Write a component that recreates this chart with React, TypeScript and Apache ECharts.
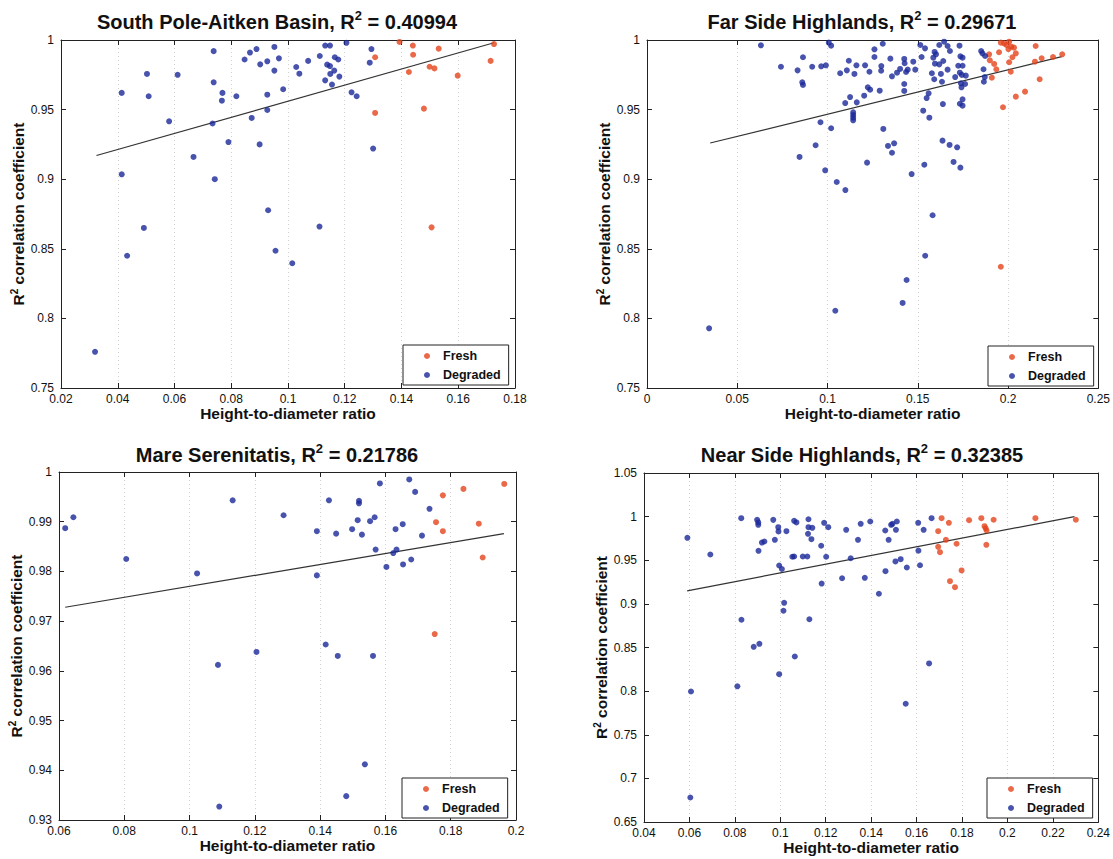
import React, { useEffect, useRef } from "react";
import * as echarts from "echarts";

type Pt = [number, number];

const FONT = "'Liberation Sans', Arial, Helvetica, sans-serif";
const BLUE = "#1a2898";
const RED = "#e4441c";

// ---------------- South Pole-Aitken Basin ----------------
const spaDegraded: Pt[] = [
  [0.032, 0.776], [0.0414, 0.962], [0.0414, 0.9035], [0.0433, 0.845], [0.0492, 0.865], [0.0503, 0.9756],
  [0.0509, 0.9596], [0.0581, 0.9416], [0.0611, 0.975], [0.0667, 0.916], [0.0738, 0.992], [0.0738, 0.9696],
  [0.0734, 0.94], [0.0742, 0.9], [0.0769, 0.962], [0.0767, 0.9564], [0.0818, 0.9596], [0.079, 0.9267],
  [0.0872, 0.944], [0.0847, 0.986], [0.0866, 0.991], [0.0889, 0.9935], [0.09, 0.925], [0.0902, 0.9825],
  [0.0927, 0.9847], [0.0927, 0.9607], [0.0927, 0.9497], [0.0952, 0.995], [0.0952, 0.978], [0.0968, 0.9868],
  [0.093, 0.8777], [0.0956, 0.8486], [0.0983, 0.9646], [0.1015, 0.8396], [0.1029, 0.9806], [0.104, 0.9758],
  [0.1071, 0.985], [0.1112, 0.9885], [0.1111, 0.866], [0.1131, 0.996], [0.1148, 0.996], [0.1138, 0.9823],
  [0.1148, 0.9813], [0.1131, 0.971], [0.1149, 0.9756], [0.1163, 0.978], [0.1155, 0.968], [0.1165, 0.9876],
  [0.1177, 0.986], [0.1181, 0.9737], [0.1206, 0.998], [0.1224, 0.9624], [0.1242, 0.9596], [0.1288, 0.9837],
  [0.1294, 0.9935], [0.13, 0.922],
];
const spaFresh: Pt[] = [
  [0.1307, 0.9876], [0.1307, 0.9476], [0.1393, 0.9986], [0.144, 0.996], [0.1441, 0.9894], [0.1426, 0.977],
  [0.1479, 0.9507], [0.1499, 0.9808], [0.1516, 0.9796], [0.1531, 0.9938], [0.1506, 0.8654], [0.1598, 0.9744],
  [0.1714, 0.985], [0.1726, 0.9971],
];
const spaFit: Pt[] = [[0.0325, 0.917], [0.1726, 0.998]];

// ---------------- Far Side Highlands ----------------
const fshDegraded: Pt[] = [
  [0.0344, 0.7929], [0.1043, 0.8055], [0.0631, 0.9962], [0.0742, 0.9808], [0.0834, 0.9782], [0.0864, 0.9876],
  [0.0915, 0.9808], [0.0965, 0.9811], [0.0991, 0.9818], [0.086, 0.9696], [0.0864, 0.9677], [0.1007, 0.9981],
  [0.102, 0.9959], [0.107, 0.9761], [0.1107, 0.9782], [0.1118, 0.9851], [0.1149, 0.9756], [0.116, 0.9818],
  [0.1208, 0.9818], [0.1232, 0.9772], [0.126, 0.9933], [0.126, 0.9878], [0.1306, 0.9973], [0.1298, 0.9813],
  [0.1297, 0.9779], [0.1348, 0.9866], [0.1385, 0.9765], [0.1357, 0.9739], [0.1402, 0.9792], [0.1425, 0.9864],
  [0.1427, 0.9833], [0.1435, 0.977], [0.1444, 0.9787], [0.1475, 0.9844], [0.1486, 0.9787], [0.1223, 0.966],
  [0.1236, 0.9643], [0.1289, 0.9636], [0.1203, 0.96], [0.1125, 0.959], [0.1098, 0.9547], [0.1162, 0.9552],
  [0.1425, 0.9684], [0.1425, 0.9634], [0.1142, 0.948], [0.1142, 0.9461], [0.1142, 0.9442], [0.1142, 0.9423],
  [0.0961, 0.9409], [0.102, 0.9366], [0.1309, 0.9361], [0.0934, 0.9244], [0.1335, 0.9239], [0.1369, 0.9258],
  [0.1357, 0.919], [0.0845, 0.916], [0.1219, 0.9119], [0.0987, 0.9064], [0.1051, 0.898], [0.1099, 0.8922],
  [0.1466, 0.9037], [0.1514, 0.9964], [0.154, 0.994], [0.1619, 0.9964], [0.1646, 0.9988], [0.1665, 0.9957],
  [0.1678, 0.9921], [0.1731, 0.9959], [0.1593, 0.9914], [0.1601, 0.9897], [0.1521, 0.9878], [0.1586, 0.9873],
  [0.1595, 0.983], [0.1641, 0.9849], [0.1619, 0.9825], [0.1665, 0.9787], [0.1736, 0.9883], [0.1748, 0.9873],
  [0.1724, 0.9815], [0.1748, 0.9815], [0.1707, 0.9734], [0.1733, 0.9765], [0.1744, 0.9749], [0.1766, 0.9744],
  [0.1578, 0.9761], [0.1591, 0.9718], [0.1628, 0.9756], [0.1634, 0.97], [0.156, 0.9617], [0.1549, 0.9583],
  [0.1739, 0.9689], [0.1742, 0.966], [0.1762, 0.9684], [0.1639, 0.954], [0.1733, 0.9542], [0.1748, 0.9528],
  [0.1748, 0.9574], [0.153, 0.9492], [0.1564, 0.9442], [0.1637, 0.9277], [0.1676, 0.9246], [0.1718, 0.9229],
  [0.1698, 0.9124], [0.1736, 0.9083], [0.1536, 0.9104], [0.1851, 0.9921], [0.1858, 0.9904], [0.1873, 0.9885],
  [0.1864, 0.979], [0.1871, 0.9734], [0.1866, 0.97], [0.1582, 0.8741], [0.1541, 0.845], [0.1438, 0.8276],
  [0.1416, 0.8111],
];
const fshFresh: Pt[] = [
  [0.195, 0.9912], [0.196, 0.9981], [0.1978, 0.9976], [0.1991, 0.9964], [0.2006, 0.9988], [0.2018, 0.9952],
  [0.2033, 0.9945], [0.2002, 0.9935], [0.2043, 0.9904], [0.2024, 0.9876], [0.1895, 0.9897], [0.1899, 0.9854],
  [0.1923, 0.9828], [0.2006, 0.984], [0.1935, 0.979], [0.2015, 0.9772], [0.191, 0.9729], [0.2153, 0.9957],
  [0.2149, 0.9844], [0.2186, 0.9869], [0.2249, 0.9878], [0.23, 0.9897], [0.2175, 0.9718], [0.2043, 0.9593],
  [0.2094, 0.9629], [0.1972, 0.9517], [0.196, 0.8371],
];
const fshFit: Pt[] = [[0.035, 0.926], [0.2297, 0.988]];

// ---------------- Mare Serenitatis ----------------
const msDegraded: Pt[] = [
  [0.0619, 0.9887], [0.0644, 0.9909], [0.0806, 0.9825], [0.1023, 0.9796], [0.1132, 0.9943], [0.1087, 0.9612],
  [0.1205, 0.9638], [0.1091, 0.9327], [0.1288, 0.9913], [0.139, 0.9881], [0.139, 0.9792], [0.1427, 0.9943],
  [0.1449, 0.9876], [0.1417, 0.9653], [0.1454, 0.963], [0.148, 0.9348], [0.1498, 0.9885], [0.1515, 0.9903],
  [0.1519, 0.9942], [0.1519, 0.9937], [0.1528, 0.9874], [0.1537, 0.9412], [0.1553, 0.9901], [0.1567, 0.9909],
  [0.157, 0.9844], [0.1562, 0.963], [0.1583, 0.9977], [0.1603, 0.9809], [0.1624, 0.9837], [0.1634, 0.9844],
  [0.1631, 0.9885], [0.1653, 0.9895], [0.1654, 0.9814], [0.1679, 0.9824], [0.1673, 0.9985], [0.1691, 0.996],
  [0.1712, 0.9872], [0.1735, 0.9926],
];
const msFresh: Pt[] = [
  [0.1751, 0.9674], [0.1755, 0.9899], [0.1776, 0.9953], [0.1776, 0.9881], [0.1839, 0.9966], [0.1886, 0.9896],
  [0.1898, 0.9828], [0.1964, 0.9976],
];
const msFit: Pt[] = [[0.0619, 0.9728], [0.1963, 0.9876]];

// ---------------- Near Side Highlands ----------------
const nshDegraded: Pt[] = [
  [0.0591, 0.9757], [0.0607, 0.7996], [0.0604, 0.6781], [0.0692, 0.9566], [0.0828, 0.9982], [0.0811, 0.8055],
  [0.0829, 0.8818], [0.0883, 0.8508], [0.0908, 0.8542], [0.0898, 0.9963], [0.0903, 0.9933], [0.0903, 0.9906],
  [0.0904, 0.9608], [0.0919, 0.9703], [0.093, 0.9715], [0.0969, 0.9963], [0.0976, 0.9734], [0.0991, 0.9879],
  [0.0992, 0.983], [0.0995, 0.944], [0.1007, 0.94], [0.0995, 0.8194], [0.1017, 0.9012], [0.1014, 0.8921],
  [0.1027, 0.9833], [0.1053, 0.954], [0.1061, 0.9543], [0.1061, 0.9952], [0.1071, 0.9933], [0.1064, 0.8397],
  [0.1099, 0.9543], [0.1119, 0.9543], [0.1124, 0.997], [0.1124, 0.9879], [0.1141, 0.9872], [0.1122, 0.9803],
  [0.1137, 0.9741], [0.1128, 0.8824], [0.118, 0.9666], [0.1182, 0.9233], [0.1193, 0.9929], [0.1211, 0.9879],
  [0.1202, 0.954], [0.1272, 0.9294], [0.129, 0.9849], [0.131, 0.9523], [0.1342, 0.9734], [0.1354, 0.9918],
  [0.1372, 0.9299], [0.1396, 0.9944], [0.1434, 0.9116], [0.1462, 0.9841], [0.1463, 0.9375], [0.1477, 0.9734],
  [0.1488, 0.9906], [0.1494, 0.9918], [0.1509, 0.9849], [0.1513, 0.9944], [0.1507, 0.9486], [0.153, 0.9512],
  [0.1557, 0.9417], [0.1607, 0.9929], [0.1608, 0.961], [0.1615, 0.9443], [0.1631, 0.9849], [0.1666, 0.9982],
  [0.1655, 0.8317], [0.1552, 0.7855],
];
const nshFresh: Pt[] = [
  [0.171, 0.9982], [0.1742, 0.9929], [0.1695, 0.9833], [0.1729, 0.9734], [0.1695, 0.9654], [0.1703, 0.9592],
  [0.1776, 0.9689], [0.1798, 0.9383], [0.1747, 0.926], [0.1769, 0.9191], [0.1831, 0.9959], [0.1885, 0.9982],
  [0.1939, 0.9964], [0.1899, 0.989], [0.1904, 0.9867], [0.1908, 0.9841], [0.1907, 0.9677], [0.2123, 0.9982],
  [0.2301, 0.9964],
];
const nshFit: Pt[] = [[0.059, 0.915], [0.2295, 1.0]];

const regionNames = ["South Pole-Aitken Basin", "Far Side Highlands", "Mare Serenitatis", "Near Side Highlands"];
const r2Values = ["0.40994", "0.29671", "0.21786", "0.32385"];
const legendNames = ["Fresh", "Degraded"];
const xAxisTitle = "Height-to-diameter ratio";
const yAxisTitle = "{b|R}{s|2}{b| correlation coefficient}";

const freshSets = [spaFresh, fshFresh, msFresh, nshFresh];
const degradedSets = [spaDegraded, fshDegraded, msDegraded, nshDegraded];
const fitSets = [spaFit, fshFit, msFit, nshFit];

// axis ranges [min, max, interval]
const xRanges: [number, number, number][] = [[0.02, 0.18, 0.02], [0, 0.25, 0.05], [0.06, 0.2, 0.02], [0.04, 0.24, 0.02]];
const yRanges: [number, number, number][] = [[0.75, 1, 0.05], [0.75, 1, 0.05], [0.93, 1, 0.01], [0.65, 1.05, 0.05]];

// layout (pixels)
const grids = [
  { left: 61, top: 40, width: 454, height: 348 },
  { left: 647, top: 40, width: 453, height: 348 },
  { left: 59, top: 472, width: 457, height: 348 },
  { left: 644, top: 473, width: 457, height: 349 },
];
const titlePos = [
  { x: 277, y: 9 },
  { x: 862, y: 9 },
  { x: 277, y: 442 },
  { x: 862, y: 442 },
];
const legendPos = [
  { x: 403, y: 345 },
  { x: 988, y: 346 },
  { x: 402, y: 778 },
  { x: 987, y: 778 },
];

export default function App() {
  const ref = useRef<HTMLDivElement>(null);
  useEffect(() => {
    if (!ref.current) return;
    const chart = echarts.init(ref.current, undefined, { renderer: "svg" });
    const axisColor = "#222";
    const xAxes: any[] = [];
    const yAxes: any[] = [];
    const series: any[] = [];
    grids.forEach((g, i) => {
      const [xmin, xmax, xint] = xRanges[i];
      const [ymin, ymax, yint] = yRanges[i];
      xAxes.push({
        type: "value", gridIndex: i, min: xmin, max: xmax, interval: xint, position: "bottom",
        axisLine: { show: true, onZero: false, lineStyle: { color: axisColor, width: 1 } },
        axisTick: { inside: true, length: 5, lineStyle: { color: axisColor } },
        axisLabel: { fontSize: 12, margin: 5, lineHeight: 11, color: "#111", fontFamily: FONT },
        splitLine: { show: true, lineStyle: { type: [1, 3], color: "#d0d0d0", width: 1 } },
        name: xAxisTitle, nameLocation: "middle", nameGap: 17,
        nameTextStyle: { fontSize: 15.5, fontWeight: "bold", color: "#111", fontFamily: FONT },
      });
      xAxes.push({
        type: "value", gridIndex: i, min: xmin, max: xmax, interval: xint, position: "top",
        axisLine: { show: true, onZero: false, lineStyle: { color: axisColor, width: 1 } },
        axisTick: { inside: true, length: 5, lineStyle: { color: axisColor } },
        axisLabel: { show: false }, splitLine: { show: false },
      });
      yAxes.push({
        type: "value", gridIndex: i, min: ymin, max: ymax, interval: yint, position: "left",
        axisLine: { show: true, onZero: false, lineStyle: { color: axisColor, width: 1 } },
        axisTick: { inside: true, length: 5, lineStyle: { color: axisColor } },
        axisLabel: { fontSize: 12, margin: 7, lineHeight: 11, color: "#111", fontFamily: FONT },
        splitLine: { show: false },
        name: yAxisTitle, nameLocation: "middle", nameGap: 32, nameRotate: 90,
        nameTextStyle: {
          rich: {
            b: { fontSize: 15.5, fontWeight: "bold", color: "#111", fontFamily: FONT, lineHeight: 18 },
            s: { fontSize: 10, fontWeight: "bold", color: "#111", fontFamily: FONT, verticalAlign: "top", lineHeight: 11 },
          },
        },
      });
      yAxes.push({
        type: "value", gridIndex: i, min: ymin, max: ymax, interval: yint, position: "right",
        axisLine: { show: true, onZero: false, lineStyle: { color: axisColor, width: 1 } },
        axisTick: { inside: true, length: 5, lineStyle: { color: axisColor } },
        axisLabel: { show: false }, splitLine: { show: false },
      });
      series.push({
        type: "line", xAxisIndex: 2 * i, yAxisIndex: 2 * i, data: fitSets[i], showSymbol: false,
        symbol: "none", lineStyle: { color: "#333", width: 1.2 }, silent: true, z: 1,
      });
      series.push({
        name: "Fresh", type: "scatter", xAxisIndex: 2 * i, yAxisIndex: 2 * i, data: freshSets[i],
        symbol: "circle", symbolSize: 6, itemStyle: { color: RED }, z: 3,
      });
      series.push({
        name: "Degraded", type: "scatter", xAxisIndex: 2 * i, yAxisIndex: 2 * i, data: degradedSets[i],
        symbol: "circle", symbolSize: 6, itemStyle: { color: BLUE }, z: 3,
      });
    });

    const titles = grids.map((_, i) => ({
      text: `{t|${regionNames[i]}, R}{s|2}{t| = ${r2Values[i]}}`,
      left: titlePos[i].x, top: titlePos[i].y, textAlign: "center", padding: 0,
      textStyle: {
        rich: {
          t: { fontSize: 20, fontWeight: "bold", color: "#111", fontFamily: FONT, lineHeight: 26 },
          s: { fontSize: 13, fontWeight: "bold", color: "#111", fontFamily: FONT, verticalAlign: "top", lineHeight: 14 },
        },
      },
    }));

    const legends = grids.map((_, i) => ({
      data: legendNames, orient: "vertical", left: legendPos[i].x, top: legendPos[i].y,
      icon: "circle", itemWidth: 6, itemHeight: 6, itemGap: 5,
      padding: [4, 8, 3, 21], borderColor: "#222", borderWidth: 1, backgroundColor: "#fff",
      textStyle: { fontSize: 12.5, fontWeight: "bold", color: "#111", fontFamily: FONT, padding: [0, 0, 0, 8], lineHeight: 14 },
      selectedMode: false,
    }));

    chart.setOption({
      animation: false,
      backgroundColor: "#fff",
      title: titles,
      legend: legends,
      grid: grids.map((g) => ({ ...g, containLabel: false })),
      xAxis: xAxes,
      yAxis: yAxes,
      series,
    });
    return () => chart.dispose();
  }, []);
  return <div ref={ref} style={{ position: "absolute", left: 0, top: 0, width: 1113, height: 859, background: "#fff" }} />;
}
